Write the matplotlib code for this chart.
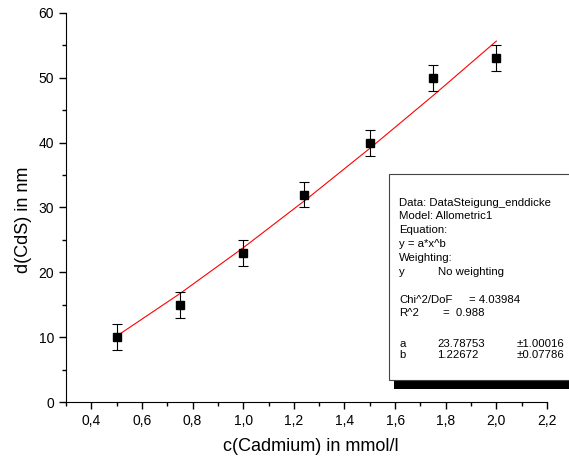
import matplotlib.pyplot as plt
from matplotlib.patches import Rectangle
from matplotlib.ticker import MultipleLocator, FuncFormatter

plt.rcParams['font.family'] = ['Liberation Sans', 'DejaVu Sans']

# measured points
conc = [0.5, 0.75, 1.0, 1.24, 1.5, 1.75, 2.0]
thick = [10, 15, 23, 32, 40, 50, 53]
err = [2, 2, 2, 2, 2, 2, 2]

# fit curve (Allometric1)
fit_x = [0.5, 0.75, 1.0, 1.25, 1.5, 1.75, 2.0]
fit_y = [10.16, 16.72, 23.79, 31.28, 39.12, 47.26, 55.67]

fit_lines = [
    ("Data: DataSteigung_enddicke", 203),
    ("Model: Allometric1", 216),
    ("Equation:", 230),
    ("y = a*x^b", 244),
    ("Weighting:", 258),
]

fig = plt.figure(figsize=(5.69, 4.61), dpi=100)
ax = fig.add_axes([66 / 569, 1 - 402 / 461, (547 - 66) / 569, (402 - 13) / 461])

ax.plot(fit_x, fit_y, color='red', lw=0.8, zorder=2)
ax.errorbar(conc, thick, yerr=err, fmt='s', color='black', ms=5.5,
            ecolor='black', elinewidth=0.8, capsize=3.5, capthick=0.8, zorder=3)

ax.set_xlim(0.3, 2.2)
ax.set_ylim(0, 60)
ax.spines['top'].set_visible(False)
ax.spines['right'].set_visible(False)
ax.xaxis.set_major_locator(MultipleLocator(0.2))
ax.xaxis.set_minor_locator(MultipleLocator(0.1))
ax.yaxis.set_major_locator(MultipleLocator(10))
ax.yaxis.set_minor_locator(MultipleLocator(5))
ax.xaxis.set_major_formatter(FuncFormatter(lambda v, p: f"{v:.1f}".replace('.', ',')))
ax.tick_params(which='major', direction='out', length=5, width=1, labelsize=10)
ax.tick_params(which='minor', direction='out', length=3, width=1)
ax.set_xticks([0.4, 0.6, 0.8, 1.0, 1.2, 1.4, 1.6, 1.8, 2.0, 2.2])
ax.set_xlabel('c(Cadmium) in mmol/l', fontsize=13, va='center')
ax.set_ylabel('d(CdS) in nm', fontsize=13, va='center')
ax.xaxis.set_label_coords(0.51, (402 - 446) / 389)
ax.yaxis.set_label_coords((24 - 66) / 481, (402 - 220) / 389)

# fit result box with shadow
def fx(px):
    return px / 569

def fy(py):
    return 1 - py / 461

fig.patches.append(Rectangle((fx(394), fy(389)), 0.5, fy(186) - fy(389),
                             transform=fig.transFigure, facecolor='black',
                             edgecolor='none', zorder=5))
fig.patches.append(Rectangle((fx(389), fy(380)), 0.5, fy(174) - fy(380),
                             transform=fig.transFigure, facecolor='white',
                             edgecolor='#444444', lw=0.8, zorder=6))

fs = 8.2
for txt, py in fit_lines:
    fig.text(fx(399), fy(py), txt, fontsize=fs, va='center', zorder=7)
fig.text(fx(399), fy(272), "y", fontsize=fs, va='center', zorder=7)
fig.text(fx(438), fy(272), "No weighting", fontsize=fs, va='center', zorder=7)
fig.text(fx(399), fy(300), "Chi^2/DoF", fontsize=fs, va='center', zorder=7)
fig.text(fx(469), fy(300), "= 4.03984", fontsize=fs, va='center', zorder=7)
fig.text(fx(399), fy(313), "R^2", fontsize=fs, va='center', zorder=7)
fig.text(fx(443), fy(313), "=  0.988", fontsize=fs, va='center', zorder=7)
fig.text(fx(399), fy(344), "a", fontsize=fs, va='center', zorder=7)
fig.text(fx(437), fy(344), "23.78753", fontsize=fs, va='center', zorder=7)
fig.text(fx(517), fy(344), "±1.00016", fontsize=fs, va='center', zorder=7)
fig.text(fx(399), fy(355), "b", fontsize=fs, va='center', zorder=7)
fig.text(fx(437), fy(355), "1.22672", fontsize=fs, va='center', zorder=7)
fig.text(fx(517), fy(355), "±0.07786", fontsize=fs, va='center', zorder=7)

fig.savefig('out.png', dpi=100)
